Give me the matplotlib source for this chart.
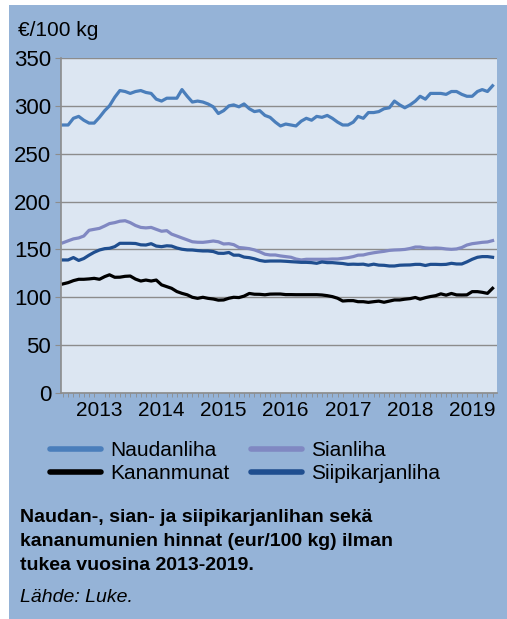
import numpy as np
import pandas as pd
import matplotlib
matplotlib.use('Agg')
import matplotlib.pyplot as plt
import matplotlib.dates as mdates
from matplotlib.patches import Rectangle

plt.rcParams['font.family'] = ['Liberation Sans', 'DejaVu Sans']

# kuukausittaiset hinnat, eur/100 kg, 6/2012 - 5/2019
months = pd.date_range('2012-06-01', periods=84, freq='MS')

naudanliha = [280, 280, 287, 289, 285, 282, 282, 288, 295, 300, 309, 316, 315, 313,
              315, 316, 314, 313, 307, 305, 308, 308, 308, 317, 310, 304, 305, 304,
              302, 299, 292, 295, 300, 301, 299, 302, 297, 294, 295, 290, 288, 283,
              279, 281, 280, 279, 284, 287, 285, 289, 288, 290, 287, 283, 280, 280,
              283, 289, 287, 293, 293, 294, 297, 298, 305, 301, 298, 301, 305, 310,
              307, 313, 313, 313, 312, 315, 315, 312, 310, 310, 315, 317, 315, 321]

sianliha = [157, 159, 161, 162, 164, 170, 171, 172, 174.5, 177, 178, 179.5, 180, 178,
            175, 173, 172.5, 173, 171, 169, 169.6, 166, 164, 162, 160, 158, 157.5, 157.4,
            158, 158.8, 158, 155.7, 156, 155, 152, 151.5, 150.8, 149.5, 147.5, 145, 144.2, 144.2,
            143.2, 142.5, 141.8, 140, 139, 139.7, 139.7, 139.7, 139.7, 139.7, 140, 140, 140.7, 141.4,
            142.5, 144, 144.2, 145.5, 146.5, 147.3, 148, 149, 149.4, 149.6, 150, 151, 152.5, 152.5,
            151.5, 151.2, 151.5, 151.2, 150.5, 150.1, 150.5, 152, 154.6, 156, 156.7, 157.4, 157.8, 159.2]

kananmunat = [114, 115.3, 117.4, 118.8, 118.8, 119.2, 119.8, 118.8, 121.6, 123.5, 120.9, 121,
              121.9, 122.2, 119, 117, 118, 117, 118, 113, 111.1, 109.4, 106, 104.1, 102.6, 100,
              98.9, 100, 98.9, 98.2, 97, 97.2, 99, 100, 99.7, 101.2, 104, 103.2, 103.1, 102.6,
              103.3, 103.4, 103.4, 102.8, 102.8, 102.7, 102.7, 102.7, 102.7, 102.7, 102.4, 101.7,
              100.7, 99, 96.1, 96.5, 96.5, 95.4, 95.4, 94.7, 95.4, 96, 94.8, 96, 97.2, 97.2, 98,
              98.6, 99.8, 98, 99.6, 100.8, 101.7, 103.6, 102.2, 104, 102.5, 102.4, 102.5, 105.9,
              105.9, 105.2, 104.1, 109.4]

siipikarjanliha = [139, 139, 141.5, 138.5, 140.5, 144, 147, 149.4, 150.8, 151.2, 152.9, 156.4,
                   156.4, 156.4, 156.2, 154.8, 154.6, 156, 153.5, 152.9, 153.8, 153.5, 151.5, 150.2,
                   149.5, 149.4, 148.8, 148.4, 148.4, 147.8, 146, 145.9, 146.8, 144, 144, 142,
                   141.4, 140.2, 138.5, 137.6, 137.9, 137.9, 137.9, 137.6, 137.2, 136.9, 136.5, 136.5,
                   136.2, 135.5, 136.9, 136.2, 136.2, 135.7, 135.3, 134.4, 134.6, 134.4, 134.6, 133.5,
                   134.6, 133.6, 133.4, 132.7, 132.7, 133.5, 133.7, 133.8, 134.4, 134.4, 133.2, 134.4,
                   134.4, 134.2, 134.4, 135.5, 134.8, 134.8, 137, 139.7, 141.8, 142.5, 142.5, 141.8]

W, H = 507, 619
fig = plt.figure(figsize=(W / 100, H / 100), dpi=100, facecolor='white')
# sininen taustapaneeli
fig.patches.append(Rectangle((9 / W, 0), 1 - 9 / W, 1 - 5 / H, transform=fig.transFigure,
                             facecolor='#95B3D7', edgecolor='none', zorder=-5))

ax = fig.add_axes([61 / W, 1 - 393 / H, 436 / W, 335 / H])
ax.set_facecolor('#DCE6F2')

lw = 2.3
ax.plot(months, naudanliha, color='#4A7EBB', lw=lw, label='Naudanliha')
ax.plot(months, kananmunat, color='black', lw=lw, label='Kananmunat')
ax.plot(months, sianliha, color='#8088C2', lw=lw, label='Sianliha')
ax.plot(months, siipikarjanliha, color='#1F4E8F', lw=lw, label='Siipikarjanliha')

ax.set_ylim(0, 350)
ax.set_yticks(range(0, 351, 50))
ax.set_xlim(months[0] - pd.Timedelta(days=12), months[-1] + pd.Timedelta(days=26))
ax.xaxis.set_major_locator(mdates.YearLocator(month=1, day=1))
ax.xaxis.set_major_formatter(mdates.DateFormatter('%Y'))
ax.xaxis.set_minor_locator(mdates.MonthLocator())
ax.tick_params(axis='x', which='major', length=0, labelsize=15, pad=6)
ax.tick_params(axis='x', which='minor', length=3, color='#8C8C8C', direction='out')
ax.tick_params(axis='y', length=4, color='#8C8C8C', labelsize=16, pad=3)

ax.grid(axis='y', color='#8C8C8C', lw=1)
ax.set_axisbelow(True)
for side in ['top', 'right']:
    ax.spines[side].set_visible(False)
for side in ['left', 'bottom']:
    ax.spines[side].set_color('#8C8C8C')
    ax.spines[side].set_linewidth(1.2)

fig.text(18 / W, 1 - 30 / H, '€/100 kg', fontsize=15, va='center', ha='left')

leg = fig.legend(loc='upper left', bbox_to_anchor=(50 / W, 1 - 441 / H), ncol=2,
                 frameon=False, fontsize=15, handlelength=2.45, handletextpad=0.45,
                 columnspacing=1.0, labelspacing=0.2, borderpad=0, borderaxespad=0)
for line in leg.get_lines():
    line.set_linewidth(4)
    line.set_solid_capstyle('round')

fig.text(20 / W, 1 - 517 / H, 'Naudan-, sian- ja siipikarjanlihan sekä', fontsize=14,
         fontweight='bold', va='center')
fig.text(20 / W, 1 - 541 / H, 'kananumunien hinnat (eur/100 kg) ilman', fontsize=14,
         fontweight='bold', va='center')
fig.text(20 / W, 1 - 566 / H, 'tukea vuosina 2013-2019.', fontsize=14,
         fontweight='bold', va='center')
fig.text(20 / W, 1 - 598 / H, 'Lähde: Luke.', fontsize=14, style='italic', va='center')

fig.savefig('out.png', dpi=100, facecolor=fig.get_facecolor())
